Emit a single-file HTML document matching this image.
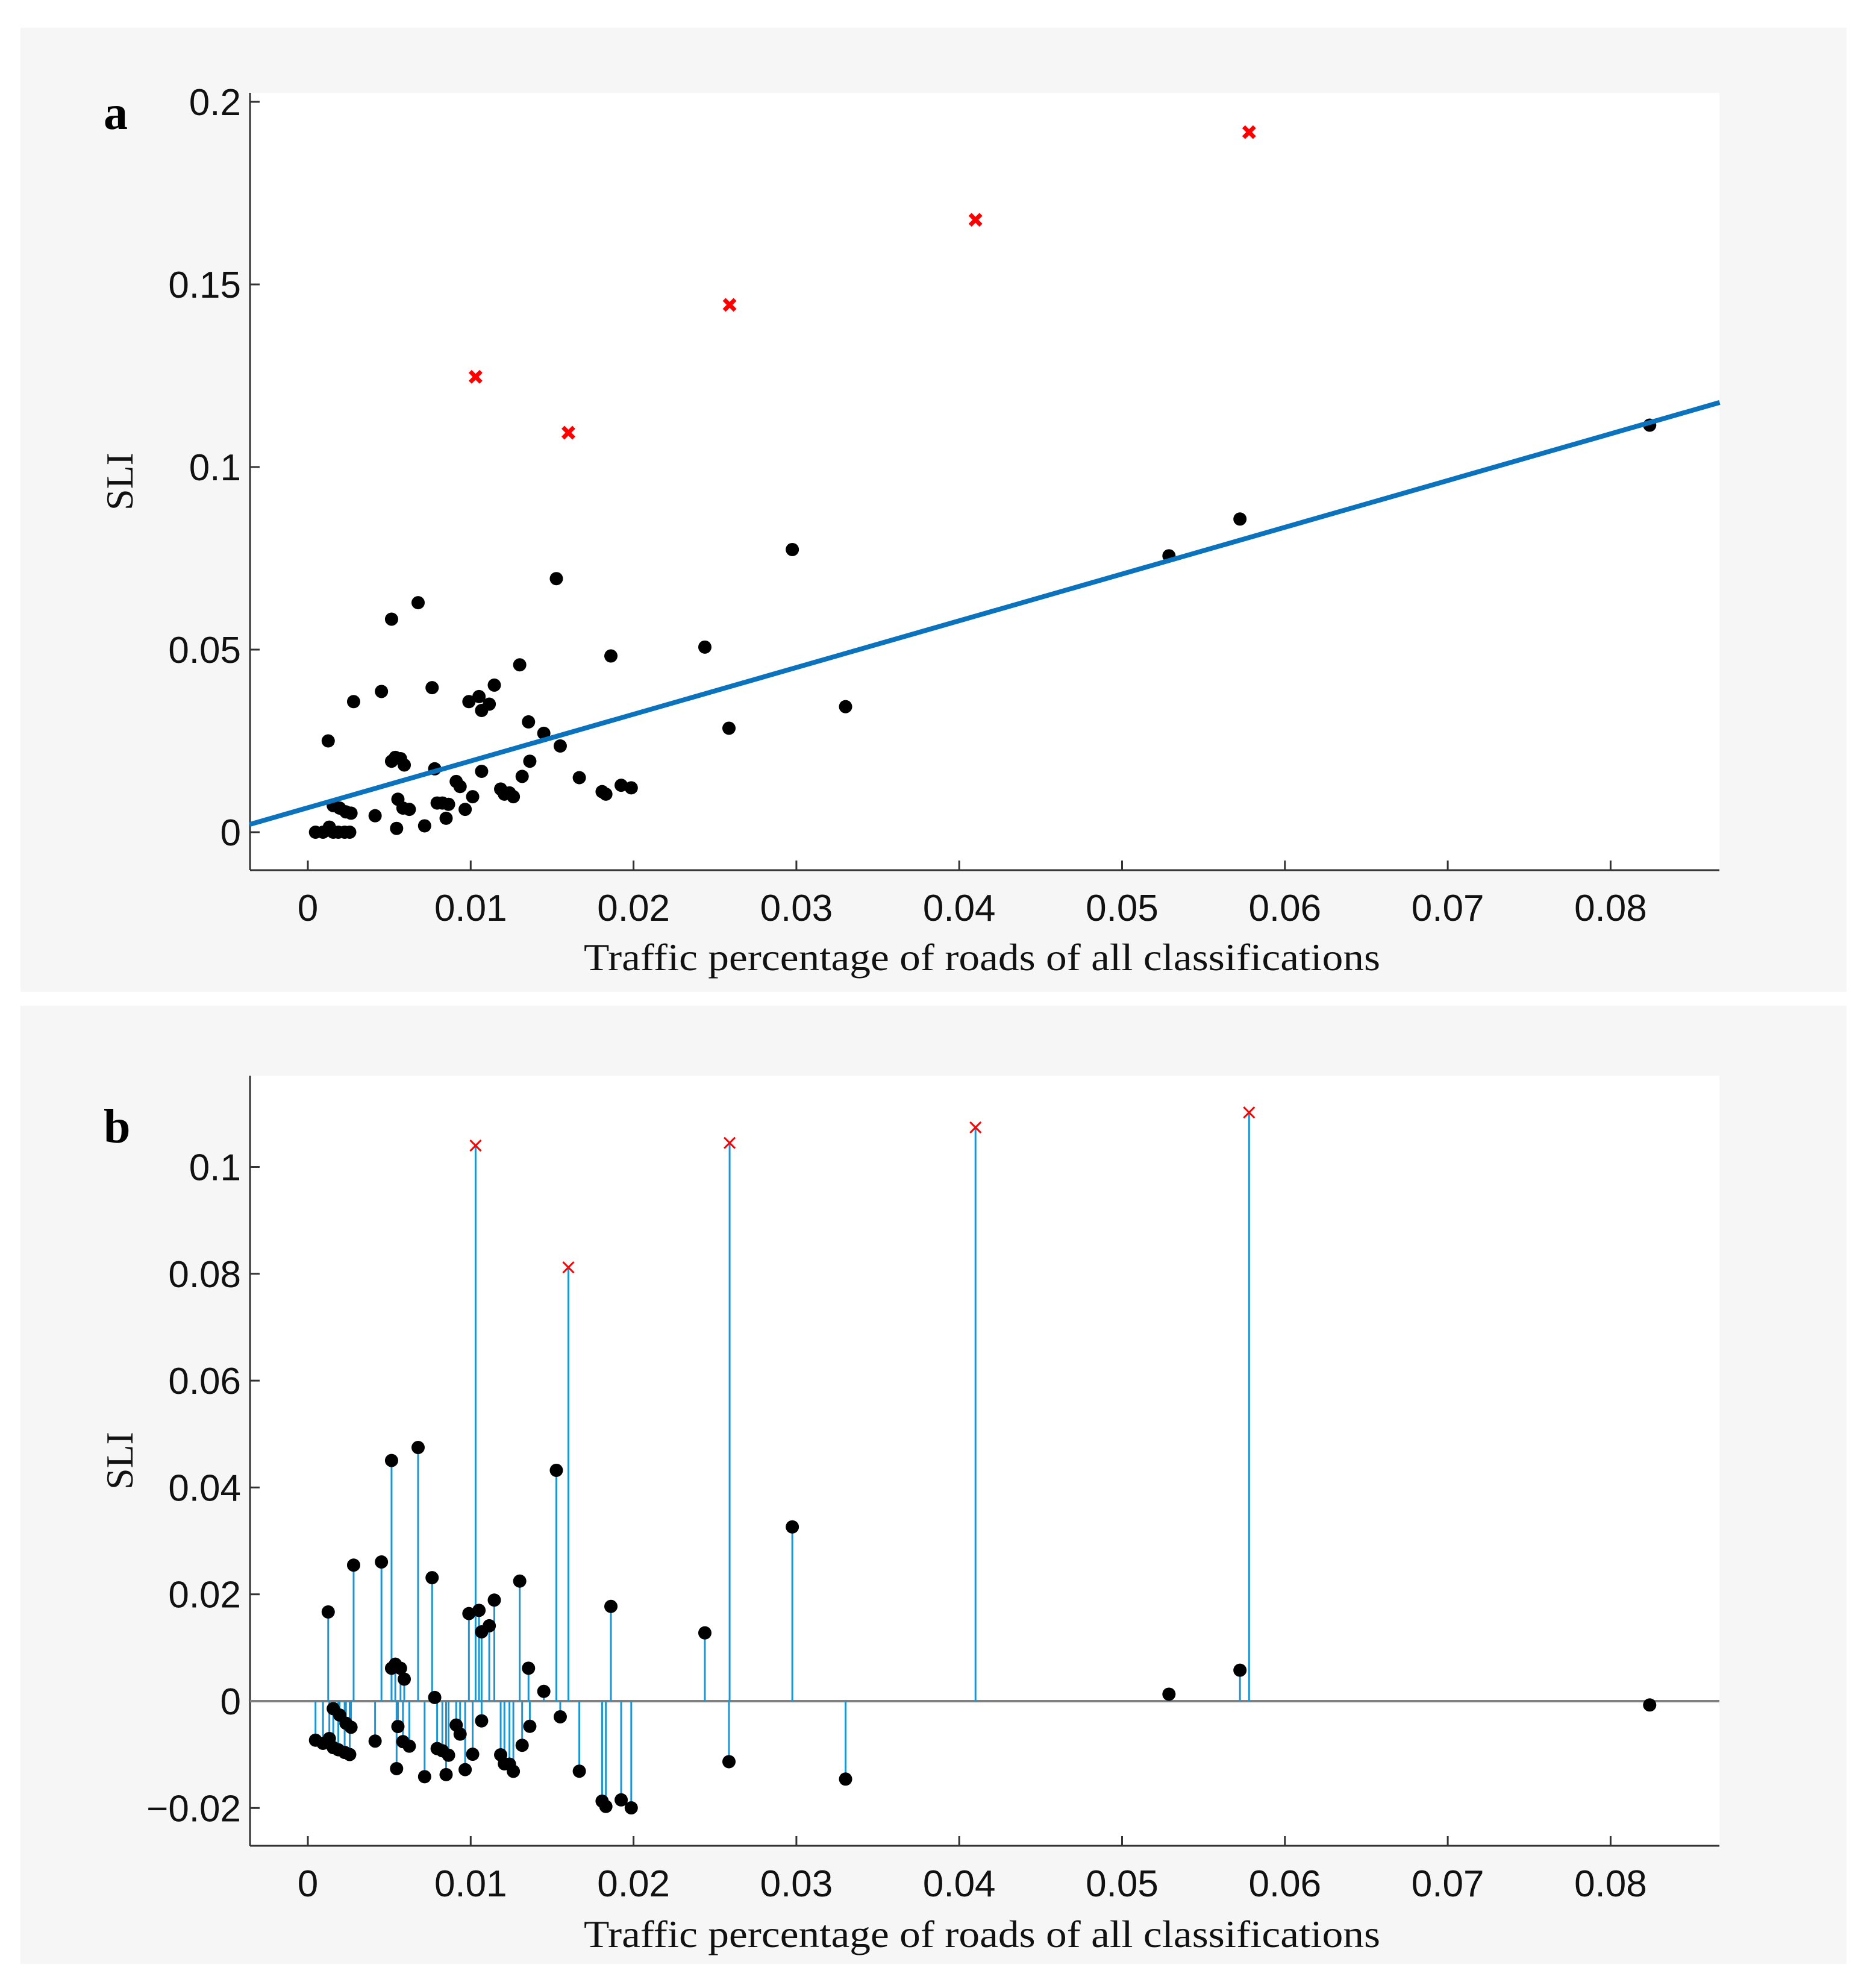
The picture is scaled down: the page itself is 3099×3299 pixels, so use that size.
<!DOCTYPE html>
<html><head><meta charset="utf-8"><style>
html,body{margin:0;padding:0;background:#fff}
svg{display:block}
.tk{font-family:"Liberation Sans",sans-serif;font-size:62px;fill:#111}
.ti{font-family:"Liberation Serif",serif;font-size:64px;fill:#111}
</style></head><body>
<svg id="chart" width="3099" height="3299" viewBox="0 0 3099 3299" xmlns="http://www.w3.org/2000/svg">
<rect x="34" y="46" width="3031" height="1600" fill="#f6f6f6"/>
<rect x="34" y="1669" width="3031" height="1590" fill="#f6f6f6"/>
<rect x="415" y="154" width="2439" height="1290" fill="#fff"/>
<rect x="415" y="1785" width="2439" height="1278" fill="#fff"/>
<g id="ga"></g>
<g id="gb"></g>
</svg>
<script>
const xs=[0.00047,0.00093,0.00132,0.00156,0.00187,0.00226,0.00257,0.00125,0.00156,0.00195,0.00234,0.00265,0.00281,0.00413,0.00452,0.00514,0.00514,0.00537,0.00569,0.00592,0.00553,0.00545,0.00584,0.00623,0.00677,0.00717,0.00763,0.00779,0.00794,0.00826,0.00849,0.00864,0.00911,0.00935,0.00966,0.00989,0.01012,0.01051,0.01067,0.01067,0.01114,0.01145,0.01184,0.01207,0.01238,0.01262,0.01301,0.01316,0.01355,0.01363,0.01449,0.01526,0.01550,0.01667,0.01807,0.01830,0.01861,0.01924,0.01986,0.02438,0.02586,0.02975,0.03302,0.05288,0.05724,0.08240];
const ys=[0,0,0.00139,0,0,0,0,0.025,0.00729,0.00660,0.00556,0.00521,0.03576,0.00451,0.03854,0.05833,0.01944,0.02049,0.02014,0.01840,0.00903,0.00104,0.00660,0.00625,0.06285,0.00174,0.03958,0.01736,0.00799,0.00799,0.00382,0.00764,0.01389,0.01250,0.00625,0.03576,0.00972,0.03715,0.01667,0.03333,0.03507,0.04028,0.01181,0.01042,0.01076,0.00972,0.04583,0.01528,0.03021,0.01944,0.02708,0.06944,0.02361,0.01493,0.01111,0.01042,0.04826,0.01285,0.01215,0.05069,0.02847,0.0774,0.03438,0.07569,0.08576,0.11146];
const outX=[0.0103,0.0160,0.0259,0.0410,0.0578];
const outYa=[0.1247,0.1094,0.1444,0.1677,0.1917];
const outYb=[0.104,0.0812,0.1045,0.1074,0.1102];
const fitSlope=1.28, fitIntercept=0.0067;
const xTicks=[0,0.01,0.02,0.03,0.04,0.05,0.06,0.07,0.08];
const xTickLabels=["0","0.01","0.02","0.03","0.04","0.05","0.06","0.07","0.08"];
const yTicksA=[0,0.05,0.1,0.15,0.2];
const yTickLabelsA=["0","0.05","0.1","0.15","0.2"];
const yTicksB=[-0.02,0,0.02,0.04,0.06,0.08,0.1];
const yTickLabelsB=["\u22120.02","0","0.02","0.04","0.06","0.08","0.1"];

const NS="http://www.w3.org/2000/svg";
const X0=415,X1=2854;
const sx=v=>511+v*27030;
const syA=v=>1381-v*6060;
const syB=v=>2823-v*8865;
function mk(p,t,a){const e=document.createElementNS(NS,t);for(const k in a)e.setAttribute(k,a[k]);p.appendChild(e);return e;}
function axes(g,top,bottom,sy,yt,ytl,xlabY,titleY,panel){
  let e=mk(g,'line',{x1:X0,y1:top,x2:X0,y2:bottom,stroke:'#333','stroke-width':3});
  
  e=mk(g,'line',{x1:X0,y1:bottom,x2:X1,y2:bottom,stroke:'#333','stroke-width':3});
  
  xTicks.forEach((v,i)=>{
    const t=mk(g,'line',{x1:sx(v),y1:bottom,x2:sx(v),y2:bottom-16,stroke:'#333','stroke-width':3});
    
    const l=mk(g,'text',{x:sx(v),y:xlabY,'text-anchor':'middle',class:'tk'});l.textContent=xTickLabels[i];
    
  });
  yt.forEach((v,i)=>{
    const t=mk(g,'line',{x1:X0,y1:sy(v),x2:X0+16,y2:sy(v),stroke:'#333','stroke-width':3});
    
    const l=mk(g,'text',{x:400,y:sy(v)+22,'text-anchor':'end',class:'tk'});l.textContent=ytl[i];
    
  });
  const xt=mk(g,'text',{x:1630,y:titleY,'text-anchor':'middle',class:'ti',textLength:1322,lengthAdjust:'spacingAndGlyphs'});
  xt.textContent='Traffic percentage of roads of all classifications';
  
  const cy=(top+bottom)/2;
  const yl=mk(g,'text',{x:200,y:cy,'text-anchor':'middle',class:'ti',transform:`rotate(-90 200 ${cy})`,dy:20});
  yl.textContent='SLI';
  
  const pl=mk(g,'text',{x:172,y:panel==='a'?214:1896,'font-family':'Liberation Serif, serif','font-weight':'bold','font-size':80,fill:'#000'});
  pl.textContent=panel;
  
}
function cross(g,x,y,s,w,name){
  const p=mk(g,'path',{d:`M${x-s} ${y-s}L${x+s} ${y+s}M${x-s} ${y+s}L${x+s} ${y-s}`,stroke:'#f00','stroke-width':w});
  
}
// Panel A
const ga=document.getElementById('ga');
axes(ga,154,1444,syA,yTicksA,yTickLabelsA,1528,1610,'a');
xs.forEach((x,i)=>{
  const c=mk(ga,'circle',{cx:sx(x),cy:syA(ys[i]),r:11,fill:'#000'});
  
});
const fx0=-0.00358,fx1=0.0867;
const fl=mk(ga,'line',{x1:sx(fx0),y1:syA(fitSlope*fx0+fitIntercept),x2:sx(fx1),y2:syA(fitSlope*fx1+fitIntercept),stroke:'#0b72bd','stroke-width':8});

outX.forEach((x,i)=>cross(ga,sx(x),syA(outYa[i]),9,7,'outlier-marker'));
// Panel B
const gb=document.getElementById('gb');
axes(gb,1785,3063,syB,yTicksB,yTickLabelsB,3147,3231,'b');
const zl=mk(gb,'line',{x1:X0,y1:syB(0),x2:X1,y2:syB(0),stroke:'#808080','stroke-width':4});

xs.forEach((x,i)=>{
  const r=ys[i]-(fitSlope*x+fitIntercept);
  const s=mk(gb,'line',{x1:sx(x),y1:syB(0),x2:sx(x),y2:syB(r),stroke:'#1a96d4','stroke-width':3});
  
});
outX.forEach((x,i)=>{
  const s=mk(gb,'line',{x1:sx(x),y1:syB(0),x2:sx(x),y2:syB(outYb[i]),stroke:'#1a96d4','stroke-width':3});
  
  cross(gb,sx(x),syB(outYb[i]),9,3,'outlier-marker');
});
xs.forEach((x,i)=>{
  const r=ys[i]-(fitSlope*x+fitIntercept);
  const c=mk(gb,'circle',{cx:sx(x),cy:syB(r),r:11,fill:'#000'});
  
});
</script>
</body></html>
